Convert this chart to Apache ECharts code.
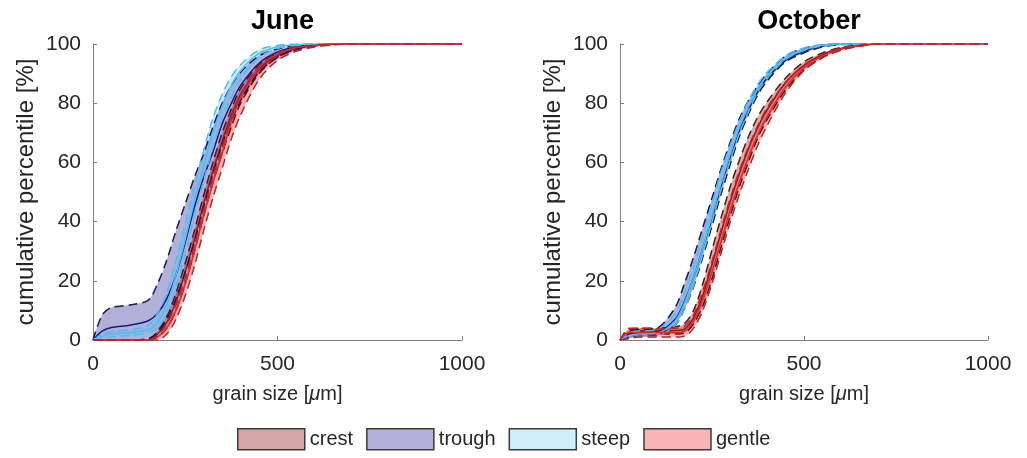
<!DOCTYPE html>
<html>
<head>
<meta charset="utf-8">
<script src="https://cdn.jsdelivr.net/npm/echarts@6/dist/echarts.min.js"></script>
<style>
  html, body { margin: 0; padding: 0; background: #fff; }
  #chart { width: 1027px; height: 458px; }
</style>
</head>
<body>
<div id="chart"></div>
<script>
// Grain size sample points [µm]
const grainSize = [0, 25, 50, 100, 150, 175, 200, 225, 250, 275, 300, 325, 350, 375, 400, 450, 500, 550, 600, 650, 700, 800, 900, 1000];
const groupNames = ['crest', 'trough', 'steep', 'gentle'];
const panelTitles = ['June', 'October'];
const xTicks = [0, 500, 1000];
const yTicks = [0, 20, 40, 60, 80, 100];

// June: cumulative percentile, lower bound / mean / upper bound
const junCrestLower  = [0, 0, 0, 0, 0, 1, 4, 10, 19, 30, 42, 53, 63, 72, 80, 90, 95.5, 98, 99.2, 99.8, 100, 100, 100, 100];
const junCrestMean   = [0, 0, 0, 0, 0, 2, 6, 13, 23, 34, 46, 57, 67, 76, 83, 91.5, 96.2, 98.5, 99.4, 99.9, 100, 100, 100, 100];
const junCrestUpper  = [0, 0, 0, 0, 0.3, 3, 8, 16, 26, 37, 49, 60, 70, 78, 85, 93, 97, 98.8, 99.6, 100, 100, 100, 100, 100];

const junTroughLower = [0, 0, 0, 0, 0.5, 2.5, 7, 14, 23, 33, 45, 56, 66, 74, 81, 90.5, 95.5, 98.3, 99.4, 99.9, 100, 100, 100, 100];
const junTroughMean  = [0, 3, 4.2, 5, 6.5, 9, 14, 22, 33, 45, 55, 63.5, 73, 80, 86, 93.5, 97.3, 99, 99.7, 100, 100, 100, 100, 100];
const junTroughUpper = [0, 8.5, 11, 11.8, 13.5, 19, 27, 37, 46, 55, 63, 72, 80, 86, 90.5, 96, 98.3, 99.4, 99.8, 100, 100, 100, 100, 100];

const junSteepLower  = [0, 0.5, 1, 1.5, 2.5, 4, 9, 18, 29, 42, 54, 65, 75, 82, 88, 95.5, 98.5, 99.5, 100, 100, 100, 100, 100, 100];
const junSteepMean   = [0, 1.3, 2, 2.5, 3.5, 6, 12, 22, 34, 47, 59, 70, 79, 86, 91, 96.8, 99, 99.7, 100, 100, 100, 100, 100, 100];
const junSteepUpper  = [0, 2, 3, 3.5, 5, 9, 16, 27, 39, 52, 64, 75, 83, 89, 93, 98, 99.5, 100, 100, 100, 100, 100, 100, 100];

const junGentleLower = [0, 0, 0, 0, 0, 0, 2, 7, 15, 25, 37, 48, 58, 68, 76, 88, 94.5, 97.5, 99, 99.7, 100, 100, 100, 100];
const junGentleMean  = [0, 0, 0, 0, 0, 1, 4, 10, 19, 30, 42, 53, 63, 74, 82, 92, 96.5, 98.7, 99.5, 99.9, 100, 100, 100, 100];
const junGentleUpper = [0, 0, 0, 0, 0, 1.5, 5.5, 12, 21, 32, 44, 55, 65, 75, 83, 92.5, 97, 98.9, 99.6, 100, 100, 100, 100, 100];

// October
const octCrestLower  = [0, 1.5, 2, 2, 2, 2.3, 5.5, 11.5, 20.5, 31.5, 42, 52, 60.5, 68.5, 74.5, 84.5, 91.2, 95.5, 98, 99.3, 100, 100, 100, 100];
const octCrestMean   = [0, 2.5, 3, 3, 3.2, 3.7, 7.5, 15, 25.5, 36.5, 47, 56.5, 65, 72, 77.8, 87, 92.8, 96.4, 98.5, 99.5, 100, 100, 100, 100];
const octCrestUpper  = [0, 3.5, 4, 4, 4.5, 5.5, 10, 19, 30.5, 41.5, 52, 61, 69, 75.5, 80.5, 88.5, 94, 97, 98.8, 99.6, 100, 100, 100, 100];

const octTroughLower = [0, 0.8, 1.2, 1.5, 5, 10.5, 18, 28, 38.5, 49.5, 59.5, 69, 76.5, 83, 87.5, 94, 97, 99, 99.8, 100, 100, 100, 100, 100];
const octTroughMean  = [0, 2, 2.5, 2.7, 7, 13, 21, 31, 41, 52, 62, 71, 78, 84, 88.5, 94.5, 97.5, 99.3, 99.9, 100, 100, 100, 100, 100];
const octTroughUpper = [0, 3, 3.5, 4, 11, 19, 28, 38, 48, 58, 67, 75, 81, 86, 90, 96, 98.5, 99.7, 100, 100, 100, 100, 100, 100];

const octSteepLower  = [0, 0.5, 1, 1.3, 5, 10.5, 18.5, 29, 40, 51, 61, 70, 77.5, 84, 88.5, 94.8, 97.9, 99.4, 99.9, 100, 100, 100, 100, 100];
const octSteepMean   = [0, 1.5, 2, 2.3, 6.5, 12.5, 21, 31, 42, 53, 63, 72, 79, 85, 89.5, 95.3, 98.2, 99.6, 100, 100, 100, 100, 100, 100];
const octSteepUpper  = [0, 2.5, 3, 3.5, 9, 16, 25, 35, 46, 57, 66, 74, 81, 86.5, 90.5, 96, 98.7, 99.8, 100, 100, 100, 100, 100, 100];

const octGentleLower = [0, 0.5, 1, 1, 1, 1.3, 4, 10, 19, 29.5, 40, 49.5, 58, 66, 72.5, 83.5, 91, 95.3, 97.9, 99.2, 100, 100, 100, 100];
const octGentleMean  = [0, 2.5, 2.5, 2.5, 2.5, 3, 6.5, 13.5, 23, 33.5, 44, 53.5, 62, 69.5, 75.5, 85.5, 92, 96, 98.3, 99.4, 100, 100, 100, 100];
const octGentleUpper = [0, 4, 4, 3.8, 4, 4.6, 8.5, 16.5, 26.5, 37.5, 48, 57.5, 65.5, 72.5, 78.5, 87, 93, 96.5, 98.6, 99.6, 100, 100, 100, 100];

const panels = [
  {
    crest:  { lower: junCrestLower,  mean: junCrestMean,  upper: junCrestUpper },
    trough: { lower: junTroughLower, mean: junTroughMean, upper: junTroughUpper },
    steep:  { lower: junSteepLower,  mean: junSteepMean,  upper: junSteepUpper },
    gentle: { lower: junGentleLower, mean: junGentleMean, upper: junGentleUpper }
  },
  {
    crest:  { lower: octCrestLower,  mean: octCrestMean,  upper: octCrestUpper },
    trough: { lower: octTroughLower, mean: octTroughMean, upper: octTroughUpper },
    steep:  { lower: octSteepLower,  mean: octSteepMean,  upper: octSteepUpper },
    gentle: { lower: octGentleLower, mean: octGentleMean, upper: octGentleUpper }
  }
];

// Styling per group
const lineColor = { crest: '#8e1b1b', trough: '#17178a', steep: '#4dbeee', gentle: '#e8262a' };
const dashColor = { crest: '#5a1414', trough: '#16165e', steep: '#4dbeee', gentle: '#b8262a' };
const fillColor = {
  crest: 'rgba(128,0,0,0.32)',
  trough: 'rgba(0,0,128,0.30)',
  steep: 'rgba(77,190,238,0.30)',
  gentle: 'rgba(255,0,0,0.30)'
};
const legendColor = { crest: '#d4a6a8', trough: '#b1b1dc', steep: '#d2eefa', gentle: '#f9b4b6' };

const FONT = 'Liberation Sans, Arial, Helvetica, sans-serif';
const TEXT = '#262626';
const AXIS = '#7f7f7f';

const gridBoxes = [
  { left: 93, top: 44, width: 369, height: 296 },
  { left: 620, top: 44, width: 368, height: 296 }
];

function pairs(arr) {
  return grainSize.map((x, i) => [x, arr[i]]);
}

// Shaded band between the lower and upper bound of one group
function bandSeries(p, name, g) {
  return {
    type: 'custom',
    name: name,
    xAxisIndex: p,
    yAxisIndex: p,
    clip: true,
    silent: true,
    z: 1,
    itemStyle: { color: legendColor[name] },
    data: [[0, 0]],
    encode: { x: 0, y: 1 },
    renderItem: function (params, api) {
      const pts = [];
      for (let i = 0; i < grainSize.length; i++) pts.push(api.coord([grainSize[i], g.upper[i]]));
      for (let i = grainSize.length - 1; i >= 0; i--) pts.push(api.coord([grainSize[i], g.lower[i]]));
      return {
        type: 'polygon',
        shape: { points: pts, smooth: 0.3 },
        style: { fill: fillColor[name], stroke: null }
      };
    }
  };
}

function lineSeries(p, name, arr, dashed) {
  return {
    type: 'line',
    name: name + (dashed ? ' bound' : ' mean'),
    xAxisIndex: p,
    yAxisIndex: p,
    data: pairs(arr),
    showSymbol: false,
    symbol: 'none',
    smooth: 0.3,
    silent: true,
    z: 3,
    lineStyle: {
      color: dashed ? dashColor[name] : lineColor[name],
      width: 1.5,
      type: dashed ? [9, 5] : 'solid'
    }
  };
}

const series = [];
panels.forEach((panel, p) => {
  groupNames.forEach(name => series.push(bandSeries(p, name, panel[name])));
  groupNames.forEach(name => {
    const g = panel[name];
    series.push(lineSeries(p, name, g.mean, false));
    series.push(lineSeries(p, name, g.upper, true));
    series.push(lineSeries(p, name, g.lower, true));
  });
});

function xAxisFor(p) {
  return {
    gridIndex: p,
    type: 'value',
    min: xTicks[0],
    max: xTicks[xTicks.length - 1],
    interval: xTicks[1] - xTicks[0],
    name: 'grain size [{mu|μ}m]',
    nameLocation: 'middle',
    nameGap: 44,
    nameTextStyle: {
      fontFamily: FONT, fontSize: 20, color: TEXT,
      rich: { mu: { fontFamily: FONT, fontSize: 20, color: TEXT, fontStyle: 'italic' } }
    },
    axisLine: { show: true, lineStyle: { color: AXIS, width: 1 } },
    axisTick: { show: true, inside: true, length: 4, lineStyle: { color: AXIS } },
    axisLabel: { fontFamily: FONT, fontSize: 21, color: TEXT, margin: 14, formatter: v => String(v) },
    splitLine: { show: false }
  };
}

function yAxisFor(p) {
  return {
    gridIndex: p,
    type: 'value',
    min: yTicks[0],
    max: yTicks[yTicks.length - 1],
    interval: yTicks[1] - yTicks[0],
    name: 'cumulative percentile [%]',
    nameLocation: 'middle',
    nameGap: 55,
    nameTextStyle: { fontFamily: FONT, fontSize: 24, color: TEXT },
    axisLine: { show: true, lineStyle: { color: AXIS, width: 1 } },
    axisTick: { show: true, inside: true, length: 4, lineStyle: { color: AXIS } },
    axisLabel: { fontFamily: FONT, fontSize: 21, color: TEXT, margin: 12 },
    splitLine: { show: false }
  };
}

const option = {
  animation: false,
  backgroundColor: '#ffffff',
  title: panelTitles.map((t, p) => ({
    text: t,
    left: gridBoxes[p].left + gridBoxes[p].width / 2,
    top: 3,
    textAlign: 'center',
    textStyle: { fontFamily: FONT, fontSize: 27, fontWeight: 'bold', color: '#000' }
  })),
  grid: gridBoxes,
  xAxis: [xAxisFor(0), xAxisFor(1)],
  yAxis: [yAxisFor(0), yAxisFor(1)],
  legend: {
    left: 237,
    top: 428,
    padding: 0,
    itemWidth: 67,
    itemHeight: 21,
    itemGap: 13,
    selectedMode: false,
    textStyle: { fontFamily: FONT, fontSize: 20, color: TEXT },
    data: groupNames.map(name => ({
      name: name,
      icon: 'rect',
      itemStyle: { color: legendColor[name], borderColor: '#3a3a3a', borderWidth: 1.5 }
    }))
  },
  series: series
};

const chart = echarts.init(document.getElementById('chart'), null, { renderer: 'canvas' });
chart.setOption(option);
</script>
</body>
</html>
